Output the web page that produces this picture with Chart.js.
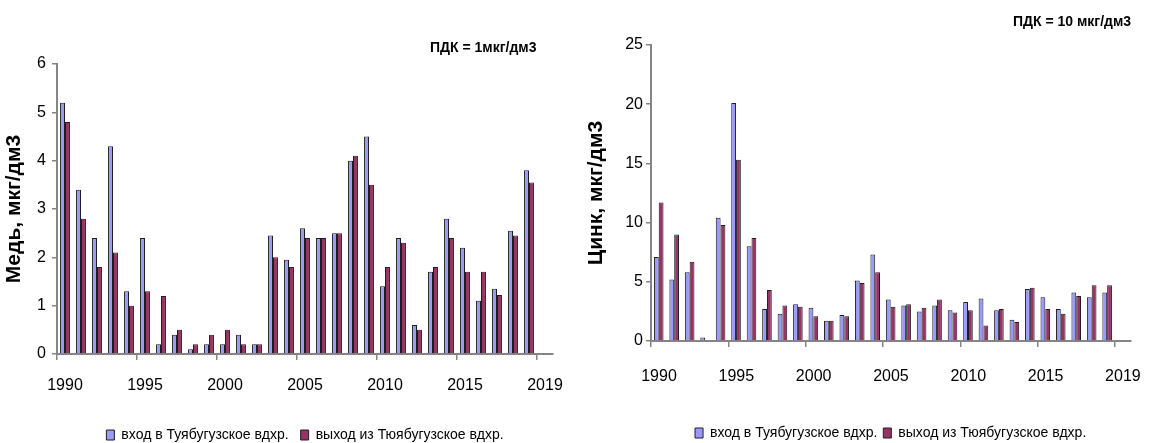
<!DOCTYPE html>
<html lang="ru">
<head>
<meta charset="utf-8">
<title>Медь и цинк</title>
<script src="https://cdn.jsdelivr.net/npm/chart.js@4.4.1/dist/chart.umd.min.js"></script>
<style>
  html, body { margin: 0; padding: 0; background: #fff; }
  .wrap { position: relative; width: 1153px; height: 443px; overflow: hidden; }
  .box { position: absolute; top: 0; }
  #copperBox { left: 0; }
  #zincBox { left: 576px; }
</style>
</head>
<body>
<div class="wrap">
  <div class="box" id="copperBox"><canvas id="copperChart" width="576" height="443"></canvas></div>
  <div class="box" id="zincBox"><canvas id="zincChart" width="577" height="443"></canvas></div>
</div>
<script>
const years = [1990, 1991, 1992, 1993, 1994, 1995, 1996, 1997, 1998, 1999,
               2000, 2001, 2002, 2003, 2004, 2005, 2006, 2007, 2008, 2009,
               2010, 2011, 2012, 2013, 2014, 2015, 2016, 2017, 2018, 2019];

// медь, мкг/дм3
const copperIn  = [5.2, 3.4, 2.4, 4.3, 1.3, 2.4, 0.2, 0.4, 0.1, 0.2,
                   0.2, 0.4, 0.2, 2.45, 1.95, 2.6, 2.4, 2.5, 4.0, 4.5,
                   1.4, 2.4, 0.6, 1.7, 2.8, 2.2, 1.1, 1.35, 2.55, 3.8];
const copperOut = [4.8, 2.8, 1.8, 2.1, 1.0, 1.3, 1.2, 0.5, 0.2, 0.4,
                   0.5, 0.2, 0.2, 2.0, 1.8, 2.4, 2.4, 2.5, 4.1, 3.5,
                   1.8, 2.3, 0.5, 1.8, 2.4, 1.7, 1.7, 1.22, 2.45, 3.55];

// цинк, мкг/дм3
const zincIn  = [7.1, 5.2, 5.8, 0.3, 10.4, 20.1, 8.0, 2.7, 2.3, 3.1,
                 2.8, 1.7, 2.2, 5.1, 7.3, 3.5, 3.0, 2.5, 3.0, 2.6,
                 3.3, 3.6, 2.6, 1.8, 4.4, 3.7, 2.7, 4.1, 3.7, 4.1];
const zincOut = [11.7, 9.0, 6.7, 0, 9.8, 15.3, 8.7, 4.3, 3.0, 2.9,
                 2.1, 1.7, 2.1, 4.9, 5.8, 2.9, 3.1, 2.8, 3.5, 2.4,
                 2.6, 1.3, 2.7, 1.6, 4.5, 2.7, 2.3, 3.8, 4.7, 4.7];

const tickLabels = ['1990', '1995', '2000', '2005', '2010', '2015', '2019'];
const tickEvery = 5;

const inLabel = 'вход в Туябугузское вдхр.';
const outLabel = 'выход из Тюябугузское вдхр.';

const SANS = '"Liberation Sans", Arial, sans-serif';
const AXIS_GREY = '#858585';

// each year gets one slot on a linear axis, bars sit in the middle of it
const toPoints = values => values.map((v, i) => ({ x: i + 0.5, y: v }));

// free text label (ПДК) drawn on top of the chart
const notePlugin = {
  id: 'note',
  afterDraw(chart, args, opts) {
    const ctx = chart.ctx;
    ctx.save();
    ctx.font = 'bold 14px ' + SANS;
    ctx.fillStyle = '#000';
    ctx.textAlign = 'left';
    ctx.textBaseline = 'middle';
    ctx.fillText(opts.text, opts.x, opts.y);
    ctx.restore();
  }
};

function makeChart(canvasId, cfg) {
  return new Chart(document.getElementById(canvasId), {
    type: 'bar',
    data: {
      datasets: [
        {
          label: inLabel,
          data: toPoints(cfg.inValues),
          backgroundColor: '#9999ff',
          borderColor: '#1e1e1e',
          borderWidth: 1
        },
        {
          label: outLabel,
          data: toPoints(cfg.outValues),
          backgroundColor: '#993366',
          borderColor: '#1e1e1e',
          borderWidth: 1
        }
      ]
    },
    options: {
      responsive: false,
      animation: false,
      events: [],
      categoryPercentage: 0.62,
      barPercentage: 1,
      layout: { padding: cfg.padding },
      scales: {
        x: {
          type: 'linear',
          min: 0,
          max: years.length + 1,
          offset: false,
          afterBuildTicks: scale => {
            scale.ticks = tickLabels.map((_, k) => ({ value: k * tickEvery }));
          },
          afterFit: scale => { scale.height = cfg.xHeight; },
          ticks: {
            callback: (value, index) => tickLabels[index],
            labelOffset: 8,
            padding: cfg.xTickPad,
            maxRotation: 0,
            autoSkip: false,
            color: '#000',
            font: { family: SANS, size: 16 }
          },
          grid: { offset: false, drawOnChartArea: false, tickLength: 6, color: AXIS_GREY, lineWidth: 1.5 },
          border: { color: AXIS_GREY, width: 2 }
        },
        y: {
          min: 0,
          max: cfg.yMax,
          afterFit: scale => { scale.width = cfg.yWidth; },
          ticks: {
            stepSize: cfg.yStep,
            padding: cfg.yTickPad,
            color: '#000',
            font: { family: SANS, size: 16 }
          },
          grid: { drawOnChartArea: false, tickLength: 5, color: AXIS_GREY, lineWidth: 1.5 },
          border: { color: AXIS_GREY, width: 2 },
          title: {
            display: true,
            text: cfg.yTitle,
            color: '#000',
            padding: { top: cfg.titlePad, bottom: 0 },
            font: { family: SANS, size: 21, weight: 'bold' }
          }
        }
      },
      plugins: {
        tooltip: { enabled: false },
        legend: {
          position: 'bottom',
          fullSize: false,
          labels: {
            boxWidth: 8,
            boxHeight: 10,
            padding: cfg.legendPad,
            color: '#000',
            font: { family: SANS, size: 14 }
          }
        },
        note: cfg.note
      }
    },
    plugins: [notePlugin]
  });
}

makeChart('copperChart', {
  inValues: copperIn,
  outValues: copperOut,
  yMax: 6,
  yStep: 1,
  yTitle: 'Медь, мкг/дм3',
  yWidth: 57,
  yTickPad: 6,
  titlePad: 2,
  xHeight: 62,
  xTickPad: 16,
  legendPad: 12,
  padding: { top: 64, right: 23, left: 0, bottom: -9 },
  note: { text: 'ПДК = 1мкг/дм3', x: 430, y: 48 }
});

makeChart('zincChart', {
  inValues: zincIn,
  outValues: zincOut,
  yMax: 25,
  yStep: 5,
  yTitle: 'Цинк, мкг/дм3',
  yWidth: 75,
  yTickPad: 3,
  titlePad: 8,
  xHeight: 79,
  xTickPad: 20,
  legendPad: 6,
  padding: { top: 45, right: 10, left: 0, bottom: -7 },
  note: { text: 'ПДК = 10 мкг/дм3', x: 437, y: 22 }
});
</script>
</body>
</html>
